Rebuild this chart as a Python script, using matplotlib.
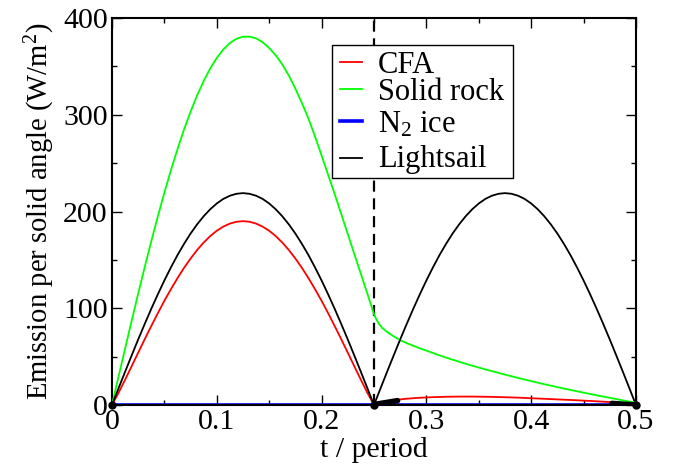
import matplotlib
matplotlib.use("Agg")
import matplotlib.pyplot as plt
from matplotlib.ticker import MultipleLocator
from matplotlib.patches import Rectangle
from matplotlib.lines import Line2D

plt.rcParams['font.family'] = ['Liberation Serif', 'DejaVu Serif']
plt.rcParams['mathtext.fontset'] = 'custom'
plt.rcParams['mathtext.rm'] = 'Liberation Serif'
plt.rcParams['mathtext.it'] = 'Liberation Serif:italic'
plt.rcParams['mathtext.default'] = 'regular'

# time grid (fraction of period), step 0.00625
t = [i * 0.00625 for i in range(81)]

lightsail = [0, 17.2, 34.3, 51.1, 67.7, 83.8, 99.4, 114.4, 128.7, 142.2,
             154.9, 166.5, 177.2, 186.7, 195.1, 202.3, 208.3, 213.0, 216.3, 218.3,
             219.0, 218.3, 216.3, 213.0, 208.3, 202.3, 195.1, 186.7, 177.2, 166.5,
             154.9, 142.2, 128.7, 114.4, 99.4, 83.8, 67.7, 51.1, 34.3, 17.2,
             0, 17.2, 34.3, 51.1, 67.7, 83.8, 99.4, 114.4, 128.7, 142.2,
             154.9, 166.5, 177.2, 186.7, 195.1, 202.3, 208.3, 213.0, 216.3, 218.3,
             219.0, 218.3, 216.3, 213.0, 208.3, 202.3, 195.1, 186.7, 177.2, 166.5,
             154.9, 142.2, 128.7, 114.4, 99.4, 83.8, 67.7, 51.1, 34.3, 17.2, 0]

cfa = [0, 12.5, 26.1, 40.0, 54.1, 68.0, 81.6, 94.9, 107.7, 119.7,
       131.1, 141.7, 151.4, 160.2, 167.9, 174.6, 180.1, 184.4, 187.5, 189.4,
       190.0, 189.4, 187.5, 184.4, 180.1, 174.6, 167.9, 160.2, 151.4, 141.7,
       131.1, 119.7, 107.7, 94.9, 81.6, 68.0, 54.1, 40.0, 26.1, 12.5,
       0, 2.0, 3.5, 4.8, 5.8, 6.5, 7.0, 7.5, 7.8, 8.1,
       8.3, 8.5, 8.6, 8.7, 8.7, 8.7, 8.6, 8.5, 8.4, 8.2,
       8.0, 7.8, 7.6, 7.3, 7.0, 6.7, 6.4, 6.1, 5.8, 5.5,
       5.2, 4.9, 4.5, 4.2, 3.8, 3.4, 3.0, 2.5, 2.0, 1.4, 0.8]

n2_ice = [0.3] * 81

t_rock = [0, 0.00625, 0.0125, 0.01875, 0.025, 0.03125, 0.0375, 0.04375, 0.05, 0.05625,
          0.0625, 0.06875, 0.075, 0.08125, 0.0875, 0.09375, 0.1, 0.10625, 0.1125, 0.11875,
          0.125, 0.13125, 0.1375, 0.14375, 0.15, 0.15625, 0.1625, 0.16875, 0.175, 0.18125,
          0.1875, 0.19375, 0.2, 0.20625, 0.2125, 0.21875, 0.225, 0.23125, 0.2375, 0.24375,
          0.25, 0.2525, 0.255, 0.2575, 0.2625, 0.26875, 0.275, 0.28125, 0.2875, 0.29375,
          0.3, 0.30625, 0.3125, 0.31875, 0.325, 0.33125, 0.3375, 0.34375, 0.35, 0.35625,
          0.3625, 0.36875, 0.375, 0.38125, 0.3875, 0.39375, 0.4, 0.40625, 0.4125, 0.41875,
          0.425, 0.43125, 0.4375, 0.44375, 0.45, 0.45625, 0.4625, 0.46875, 0.475, 0.48125,
          0.4875, 0.49375, 0.5]
solid_rock = [0, 29.2, 58.2, 86.9, 115.1, 142.6, 169.2, 194.9, 219.4, 242.7,
              264.4, 284.7, 303.2, 320.0, 334.9, 347.9, 358.7, 367.5, 374.1, 378.5,
              380.7, 380.7, 379.0, 375.0, 369.0, 361.5, 352.0, 340.5, 327.0, 312.0,
              296.0, 277.5, 258.0, 238.0, 218.0, 197.5, 176.7, 156.0, 135.5, 114.8,
              94.0, 88.0, 83.5, 80.0, 75.5, 71.0, 67.0, 63.9, 61.2, 58.6,
              56.2, 53.8, 51.3, 49.0, 46.8, 44.7, 42.6, 40.6, 38.7, 36.8,
              35.0, 33.2, 31.4, 29.7, 28.0, 26.3, 24.7, 23.1, 21.5, 20.0,
              18.5, 17.0, 15.6, 14.2, 12.8, 11.4, 10.0, 8.7, 7.4, 6.1,
              4.8, 3.5, 2.2]

# thick black segments and dots near zero
seg1_t = [0.25, 0.2725]
seg1_v = [0.5, 4.5]
seg2_t = [0.477, 0.498]
seg2_v = [2.0, 0.5]
dot_t = [0, 0.25, 0.5]
dot_v = [0, 0, 0]

fig = plt.figure(figsize=(6.84, 4.70), dpi=100)
ax = fig.add_axes([0.1637, 0.1383, 0.7661, 0.8234])

ax.axvline(0.25, color='black', lw=1.6, ls=(0, (5, 3)), zorder=1)
ax.plot(t, n2_ice, color='#0000ff', lw=2.6, zorder=2)
ax.plot(t, cfa, color='#ff0000', lw=1.3, zorder=3)
ax.plot(t_rock, solid_rock, color='#00ff00', lw=1.3, zorder=3)
ax.plot(t, lightsail, color='black', lw=1.3, zorder=4)
ax.plot(seg1_t, seg1_v, color='black', lw=4, solid_capstyle='round', zorder=5)
ax.plot(seg2_t, seg2_v, color='black', lw=3.5, solid_capstyle='round', zorder=5)
ax.plot(dot_t, dot_v, 'o', color='black', ms=5, zorder=6, clip_on=False)

ax.set_xlim(0, 0.5)
ax.set_ylim(0, 400)
ax.xaxis.set_minor_locator(MultipleLocator(0.05))
ax.yaxis.set_minor_locator(MultipleLocator(50))
ax.set_xticks([0, 0.1, 0.2, 0.3, 0.4, 0.5])
ax.set_xticklabels(['0', '0.1', '0.2', '0.3', '0.4', '0.5'])
ax.set_yticks([0, 100, 200, 300, 400])
ax.set_yticklabels(['0', '100', '200', '300', '400'])
ax.tick_params(which='both', direction='in', top=True, right=True, width=1.0)
ax.tick_params(which='major', length=7, labelsize=21.5, pad=3)
ax.tick_params(which='minor', length=3.6)
for lbl in ax.get_xticklabels() + ax.get_yticklabels():
    lbl.set_family('Liberation Serif')
for s in ax.spines.values():
    s.set_linewidth(1.5)

ax.set_xlabel('t / period', fontsize=21.5, labelpad=1, family='Liberation Serif')
ax.set_ylabel('Emission per solid angle (W/m$^2$)', fontsize=20.6, labelpad=4,
              family='Liberation Serif')

# legend drawn in axes coordinates
leg_labels = ['CFA', 'Solid rock', 'N$_2$ ice', 'Lightsail']
leg_colors = ['#ff0000', '#00ff00', '#0000ff', 'black']
leg_widths = [1.3, 1.3, 2.6, 1.3]
leg_line_y = [0.8855, 0.8165, 0.7346, 0.6390]
leg_base_y = [0.8579, 0.7881, 0.7041, 0.6158]
ax.add_patch(Rectangle((0.4198, 0.5866), 0.7653 - 0.4198, 0.9302 - 0.5866,
                       transform=ax.transAxes, facecolor='white',
                       edgecolor='black', lw=1.0, zorder=10))
for lab, col, lw, ly, by in zip(leg_labels, leg_colors, leg_widths, leg_line_y, leg_base_y):
    ax.add_line(Line2D([0.4351, 0.4771], [ly, ly], transform=ax.transAxes,
                       color=col, lw=lw, zorder=11))
    ax.text(0.5076, by, lab, transform=ax.transAxes, fontsize=22,
            va='baseline', ha='left', zorder=11, family='Liberation Serif')

fig.savefig('out.png', dpi=100)
